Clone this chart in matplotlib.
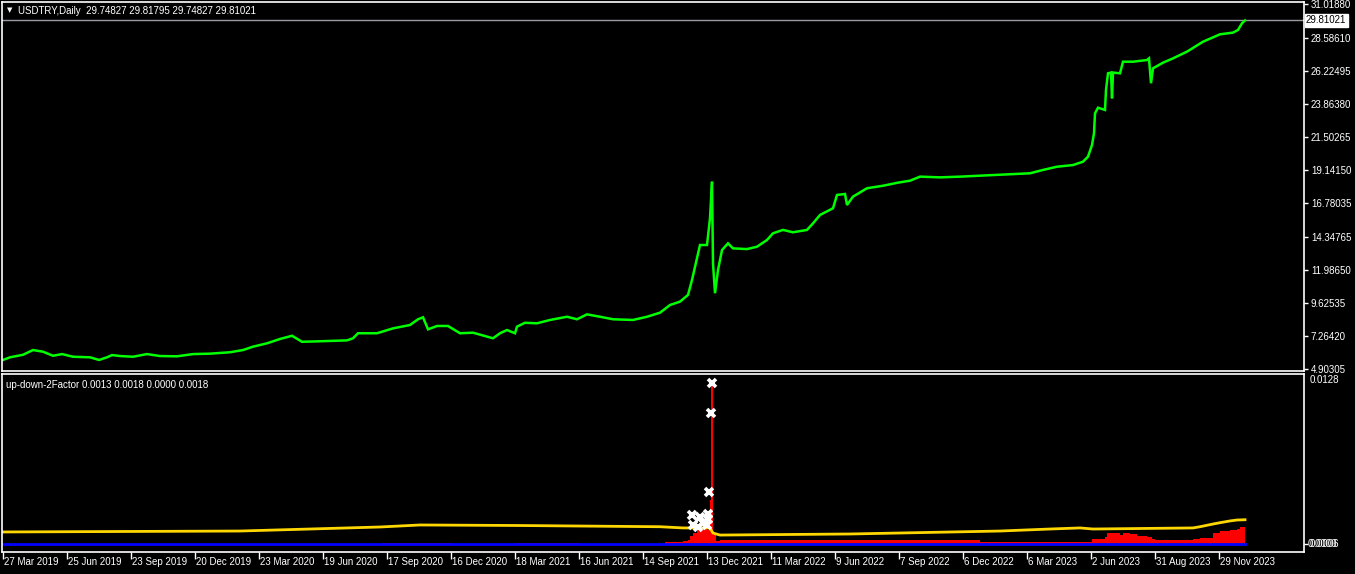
import matplotlib
matplotlib.use('Agg')
import matplotlib.pyplot as plt

# price (bar index, close)
price_idx = [0, 7, 20, 30, 40, 50, 59, 70, 87, 96, 104, 109, 117, 130, 144, 157, 174, 190, 207, 227,
             240, 250, 264, 277, 289, 299, 314, 344, 350, 355, 374, 390, 407, 415, 420, 425, 434, 445,
             457, 470, 490, 497, 504, 510, 512, 514, 522, 534, 547, 564, 574, 584, 597, 610, 630, 644,
             657, 667, 677, 685, 689, 692, 695, 697, 704, 707, 709, 710, 712, 715, 719, 725, 730, 744,
             754, 759, 764, 770, 780, 790, 804, 810, 817, 830, 834, 842, 844, 850, 864, 880, 895, 907,
             917, 937, 957, 977, 1010, 1027, 1040, 1054, 1070, 1080, 1085, 1089, 1091, 1092, 1095, 1102,
             1103, 1105, 1108, 1109, 1110, 1117, 1120, 1130, 1144, 1146, 1148, 1150, 1160, 1170, 1184,
             1200, 1217, 1230, 1235, 1239, 1242]
price_val = [5.53, 5.72, 5.90, 6.24, 6.12, 5.83, 5.95, 5.76, 5.72, 5.53, 5.72, 5.88, 5.81, 5.76, 5.95,
             5.81, 5.79, 5.95, 5.98, 6.08, 6.24, 6.48, 6.72, 7.03, 7.26, 6.83, 6.86, 6.93, 7.08, 7.44,
             7.44, 7.79, 8.03, 8.44, 8.58, 7.72, 7.96, 7.96, 7.44, 7.48, 7.08, 7.44, 7.67, 7.50, 7.44,
             7.91, 8.19, 8.15, 8.39, 8.62, 8.44, 8.79, 8.62, 8.44, 8.39, 8.62, 8.91, 9.46, 9.70, 10.18,
             11.25, 12.20, 13.16, 13.75, 13.75, 15.66, 18.28, 12.44, 10.30, 11.96, 13.39, 13.87, 13.51,
             13.46, 13.63, 13.87, 14.11, 14.59, 14.83, 14.66, 14.83, 15.30, 15.90, 16.38, 17.33, 17.40,
             16.61, 17.21, 17.81, 17.99, 18.21, 18.35, 18.64, 18.59, 18.64, 18.71, 18.83, 18.88, 19.12,
             19.35, 19.47, 19.71, 20.07, 20.90, 21.74, 23.17, 23.57, 23.41, 24.84, 26.03, 26.08, 24.24,
             26.08, 26.03, 26.86, 26.86, 26.98, 27.10, 25.32, 26.39, 26.79, 27.10, 27.58, 28.29, 28.82,
             28.94, 29.13, 29.61, 29.81]
last_price = 29.81021

price_ticks = [31.01880, 28.58610, 26.22495, 23.86380, 21.50265, 19.14150, 16.78035, 14.34765,
               11.98650, 9.62535, 7.26420, 4.90305]

# indicator buffers
yellow_idx = [0, 237, 377, 417, 517, 657, 680, 707, 710, 717, 847, 997, 1047, 1077, 1090, 1190,
              1197, 1210, 1217, 1227, 1234, 1242]
yellow_val = [0.00149, 0.00156, 0.00186, 0.00201, 0.00197, 0.00188, 0.00179, 0.00179, 0.00141,
              0.00126, 0.00134, 0.00156, 0.00171, 0.00179, 0.00171, 0.00179, 0.00188, 0.00208,
              0.00218, 0.00231, 0.00238, 0.00240]

red_idx = [0, 379, 449, 513, 577, 662, 680, 685, 687, 690, 694, 700, 704, 706, 707, 708, 710, 713,
           717, 977, 1089, 1102, 1104, 1117, 1120, 1127, 1134, 1144, 1149, 1152, 1190, 1197, 1210,
           1217, 1227, 1234, 1237, 1242]
red_val = [0.0006, 0.00068, 0.0006, 0.00067, 0.0006, 0.00074, 0.00082, 0.00089, 0.00119, 0.00141,
           0.00164, 0.00171, 0.00164, 0.00238, 0.0039, 0.01257, 0.00126, 0.00082, 0.00089, 0.00074,
           0.00094, 0.00114, 0.00139, 0.00126, 0.00139, 0.00131, 0.00119, 0.00109, 0.00094, 0.00089,
           0.00097, 0.00106, 0.00139, 0.00158, 0.00164, 0.00169, 0.00183, 0.00193]

blue_idx = [0, 1242]
blue_val = [0.0006, 0.0006]

cross_idx = [708.7, 707.7, 706.3, 689.3, 705, 697, 690, 700, 695, 704, 705]
cross_val = [0.01255, 0.01032, 0.00449, 0.00275, 0.00283, 0.00263, 0.00201, 0.00216, 0.00188,
             0.00201, 0.00245]

date_labels = ['27 Mar 2019', '25 Jun 2019', '23 Sep 2019', '20 Dec 2019', '23 Mar 2020',
               '19 Jun 2020', '17 Sep 2020', '16 Dec 2020', '18 Mar 2021', '16 Jun 2021',
               '14 Sep 2021', '13 Dec 2021', '11 Mar 2022', '9 Jun 2022', '7 Sep 2022',
               '6 Dec 2022', '6 Mar 2023', '2 Jun 2023', '31 Aug 2023', '29 Nov 2023']
date_idx = [64 * i for i in range(len(date_labels))]

W, H = 1355, 574
FONT = 'Liberation Sans'
TXT = '#FFFFFF'

fig = plt.figure(figsize=(W / 100, H / 100), dpi=100, facecolor='black')
ax1 = fig.add_axes([2 / W, 1 - 371 / H, 1302 / W, 369 / H], facecolor='black')
ax2 = fig.add_axes([2 / W, 1 - 552 / H, 1302 / W, 178 / H], facecolor='black')

for ax in (ax1, ax2):
    for s in ax.spines.values():
        s.set_color('white')
        s.set_linewidth(1.2)
    ax.set_xlim(-1, 1301)
    ax.set_xticks([])
    ax.set_yticks([])

# ---- top: price
ax1.set_ylim(4.74, 31.13)
ax1.axhline(last_price, color='#9a9aa2', lw=1)
ax1.plot(price_idx, price_val, color='#00FF00', lw=1.8, solid_joinstyle='miter')

ax1.yaxis.tick_right()
ax1.set_yticks(price_ticks)
ax1.set_yticklabels(['%.5f' % v for v in price_ticks])
ax1.tick_params(axis='y', colors='white', length=3, width=1, pad=2, labelsize=7,
                labelcolor=TXT)
for t in ax1.get_yticklabels():
    t.set_fontfamily(FONT)
ax1.text(1303, last_price, '%.5f' % last_price, color='black', fontsize=7, family=FONT,
         va='center', ha='left', clip_on=False,
         bbox=dict(boxstyle='square,pad=0.15', fc='white', ec='white'))

ax1.text(0.004, 0.985, '\u25BC', transform=ax1.transAxes, color='white', fontsize=5,
         va='top', ha='left', family='DejaVu Sans')
ax1.text(0.012, 0.988, 'USDTRY,Daily  29.74827 29.81795 29.74827 29.81021',
         transform=ax1.transAxes, color=TXT, fontsize=7, va='top', ha='left', family=FONT)

# ---- bottom: indicator
ax2.set_ylim(0, 0.01324)
ax2.fill_between(red_idx, blue_val[0], red_val, step='post', color='#FF0000', lw=0)
ax2.plot(yellow_idx, yellow_val, color='#FFD700', lw=2)
ax2.plot(blue_idx, blue_val, color='#0000FF', lw=2)
ax2.plot(cross_idx, cross_val, ls='none', marker='x', ms=6, mew=2.6, color='white')

ax2.text(0.003, 0.965, 'up-down-2Factor 0.0013 0.0018 0.0000 0.0018', transform=ax2.transAxes,
         color=TXT, fontsize=7, va='top', ha='left', family=FONT)
ax2.text(1307, 0.0128, '0.0128', color=TXT, fontsize=7, va='center', ha='left', family=FONT,
         clip_on=False)
ax2.yaxis.tick_right()
ax2.set_yticks([0.0006])
ax2.set_yticklabels([''])
ax2.tick_params(axis='y', colors='white', length=3, width=1)
ax2.text(1305, 0.0006, '0.0000', color=TXT, fontsize=7, va='center', ha='left', family=FONT,
         clip_on=False)
ax2.text(1307, 0.0006, '0.0006', color=TXT, fontsize=7, va='center', ha='left', family=FONT,
         clip_on=False)

# date axis
ax2.set_xticks(date_idx)
ax2.set_xticklabels([])
ax2.tick_params(axis='x', colors='white', length=5, width=1, direction='out')
for i, lab in zip(date_idx, date_labels):
    ax2.text(i + 1.5, -0.00078, lab, color=TXT, fontsize=7, va='center', ha='left',
             family=FONT, clip_on=False)

fig.savefig('out.png', dpi=100, facecolor='black')
